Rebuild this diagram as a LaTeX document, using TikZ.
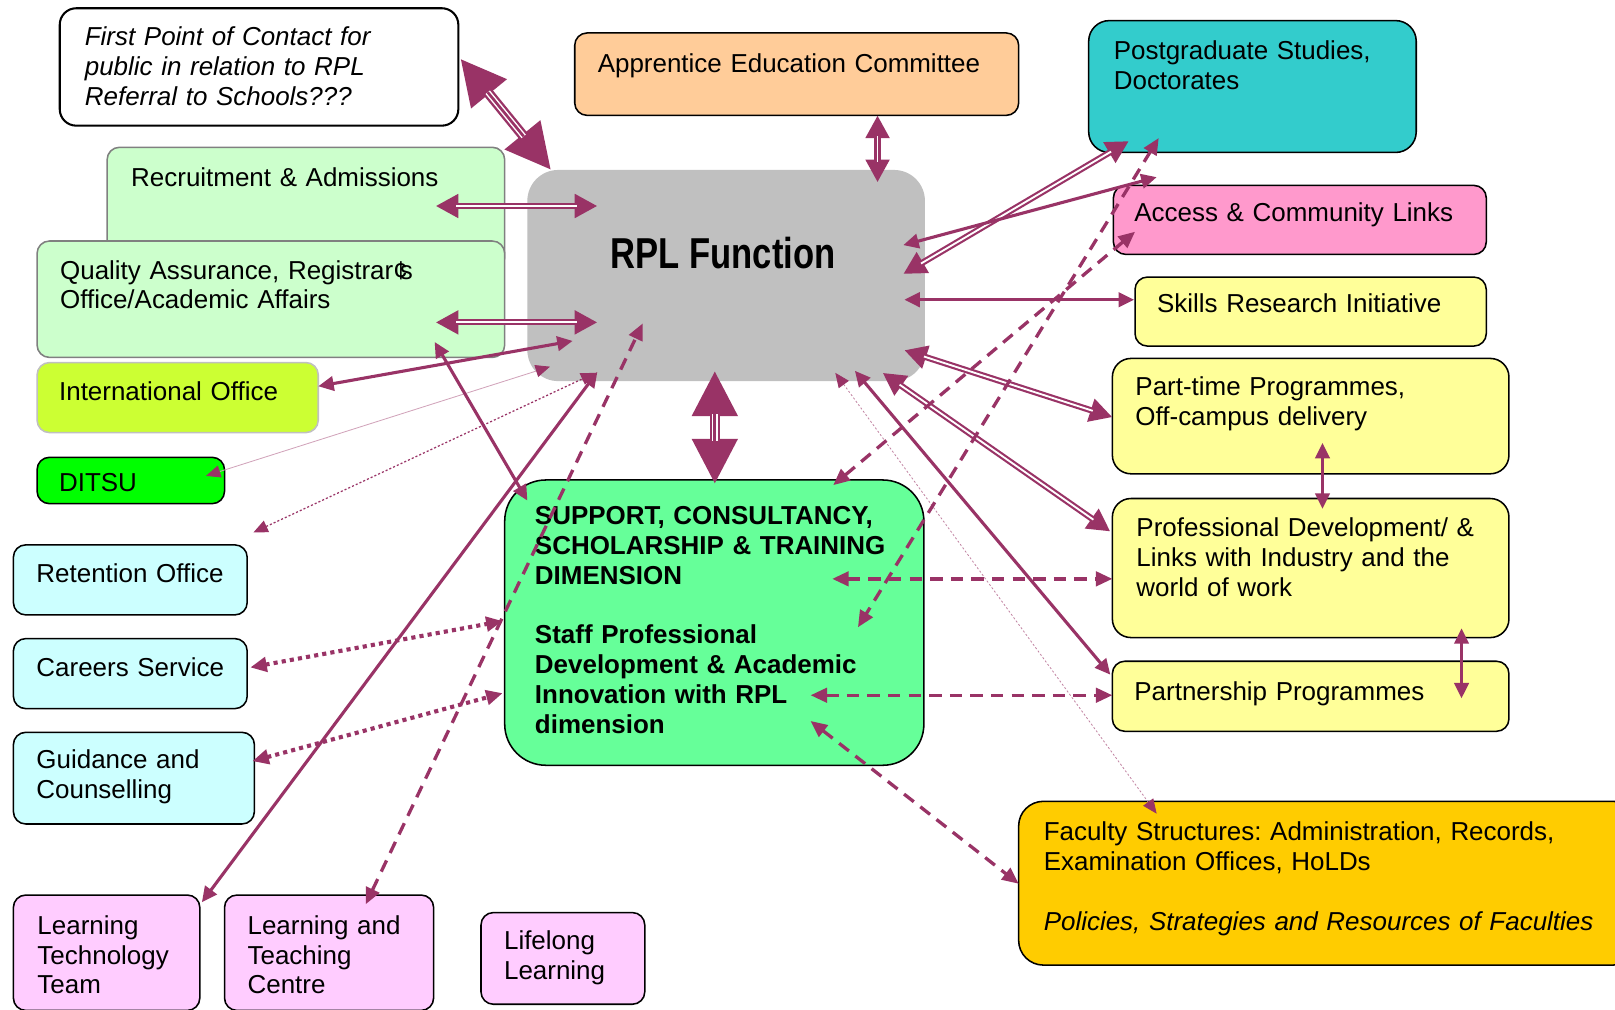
\documentclass[tikz,border=0pt]{standalone}
\usepackage{fontspec}
\setmainfont{Liberation Sans}
\usetikzlibrary{arrows.meta,fit}
\definecolor{plum}{HTML}{993366}
\definecolor{peach}{HTML}{FFCC99}
\definecolor{tealc}{HTML}{33CCCC}
\definecolor{mint}{HTML}{CCFFCC}
\definecolor{limec}{HTML}{CCFF33}
\definecolor{greenc}{HTML}{00FF00}
\definecolor{cyanc}{HTML}{CCFFFF}
\definecolor{pinkc}{HTML}{FFCCFF}
\definecolor{greyc}{HTML}{C0C0C0}
\definecolor{sgreen}{HTML}{66FF99}
\definecolor{rose}{HTML}{FF99CC}
\definecolor{yel}{HTML}{FFFF99}
\definecolor{goldc}{HTML}{FFCC00}
\frenchspacing
\newcommand\tf{\fontsize{12.6}{14.5}\selectfont\frenchspacing}
\newcommand\mkbox[6]{\path (#2,#3) coordinate (#1-a) (#4,#5) coordinate (#1-b);
  \node[fit=(#1-a)(#1-b), inner sep=0pt, #6] (#1) {};}
\newcommand\dblarrow[2]{%
  \draw[plum, line width=3pt, {Triangle[length=11pt,width=11pt]}-{Triangle[length=11pt,width=11pt]}] (#1) -- (#2);
  \draw[white, line width=0.9pt, shorten <=10pt, shorten >=10pt] (#1) -- (#2);}
\newcommand\bigarrow[2]{%
  \draw[plum, line width=5pt, {Triangle[length=22pt,width=21pt]}-{Triangle[length=22pt,width=21pt]}] (#1) -- (#2);
  \draw[white, line width=0.7pt, double=plum, double distance=1.3pt, shorten <=21pt, shorten >=21pt] (#1) -- (#2);}
\begin{document}
\begin{tikzpicture}[x=0.5pt,y=-0.5pt,
  box/.style={draw=black, line width=0.75pt, rounded corners=6pt},
  txt/.style={inner sep=0pt, anchor=base west, text width=330pt, align=left, font=\tf},
  sol/.style={plum, line width=1.5pt, {Triangle[length=7.5pt,width=7pt]}-{Triangle[length=7.5pt,width=7pt]}},
  dsh/.style={plum, line width=1.6pt, dash pattern=on 6pt off 4pt, {Triangle[length=8pt,width=7pt]}-{Triangle[length=8pt,width=7pt]}},
  dots/.style={plum, line width=2pt, dash pattern=on 2pt off 2pt, {Triangle[length=8pt,width=7pt]}-{Triangle[length=8pt,width=7pt]}},
  faint/.style={plum!45, line width=0.4pt, {Triangle[length=7pt,width=6pt,color=plum]}-{Triangle[length=7pt,width=6pt,color=plum]}},
  fdot/.style={plum, line width=0.6pt, dash pattern=on 1pt off 1pt, {Triangle[length=7pt,width=6pt]}-{Triangle[length=7pt,width=6pt]}},
  fdot2/.style={plum!60, line width=0.4pt, dash pattern=on 1pt off 1pt, {Triangle[length=7pt,width=6pt,color=plum]}-{Triangle[length=7pt,width=6pt,color=plum]}}
]
\fill[white] (0,0) rectangle (1568,980);
\useasboundingbox (0,0) rectangle (1568,980);

% boxes
\mkbox{first}{58}{8}{445}{122}{box, fill=white, rounded corners=8pt, line width=1pt}
\mkbox{aec}{558}{32}{989}{112}{box, fill=peach}
\mkbox{pg}{1057}{20}{1375}{148}{box, fill=tealc, rounded corners=10pt}
\mkbox{ra}{104}{143}{490}{262}{box, fill=mint, draw=gray}
\mkbox{qa}{36}{234}{490}{347}{box, fill=mint, draw=gray}
\mkbox{io}{36}{352}{309}{420}{box, fill=limec, draw=greyc}
\mkbox{ditsu}{36}{444}{218}{489}{box, fill=greenc}
\mkbox{ret}{13}{529}{240}{597}{box, fill=cyanc}
\mkbox{car}{13}{620}{240}{688}{box, fill=cyanc}
\mkbox{gc}{13}{711}{247}{800}{box, fill=cyanc}
\mkbox{ltt}{13}{869}{194}{981}{box, fill=pinkc}
\mkbox{ltc}{218}{869}{421}{981}{box, fill=pinkc}
\mkbox{ll}{467}{886}{626}{975}{box, fill=pinkc}
\mkbox{rpl}{512}{165}{898}{370}{fill=greyc, rounded corners=15pt}
\mkbox{sup}{490}{466}{897}{743}{box, fill=sgreen, rounded corners=20pt}
\mkbox{acc}{1081}{180}{1443}{247}{box, fill=rose}
\mkbox{sk}{1102}{269}{1443}{336}{box, fill=yel}
\mkbox{pt}{1080}{348}{1465}{460}{box, fill=yel, rounded corners=9pt}
\mkbox{pd}{1080}{484}{1465}{619}{box, fill=yel, rounded corners=9pt}
\mkbox{pp}{1080}{642}{1465}{710}{box, fill=yel}
\mkbox{fac}{989}{778}{1590}{937}{box, fill=goldc, rounded corners=12pt}

% texts
\node[txt, font=\tf\itshape] (first-t) at (82,44) {First Point of Contact for\\public in relation to RPL\\Referral to Schools???};
\node[txt] (aec-t) at (580,70) {Apprentice Education Committee};
\node[txt] (pg-t) at (1081,58) {Postgraduate Studies,\\Doctorates};
\node[txt] (ra-t) at (127,181) {Recruitment \& Admissions};
\node[txt] (qa-t) at (58,271) {Quality Assurance, Registrar¢\kern-.3em s\\Office/Academic Affairs};
\node[txt] (io-t) at (57,389) {International Office};
\node[txt] (ditsu-t) at (57,477) {DITSU};
\node[txt] (ret-t) at (35,566) {Retention Office};
\node[txt] (car-t) at (35,657) {Careers Service};
\node[txt] (gc-t) at (35,746) {Guidance and\\Counselling};
\node[txt] (ltt-t) at (36,907) {Learning\\Technology\\Team};
\node[txt] (ltc-t) at (240,907) {Learning and\\Teaching\\Centre};
\node[txt] (ll-t) at (489,922) {Lifelong\\Learning};
\node[inner sep=0pt, font=\fontsize{21}{24}\selectfont\bfseries] (rpl-t) at (702,246) {\scalebox{0.8}[1]{RPL Function}};
\node[txt, font=\tf\bfseries] (sup-t) at (519,509) {SUPPORT, CONSULTANCY,\\SCHOLARSHIP \& TRAINING\\DIMENSION\\[14.5pt]Staff Professional\\Development \& Academic\\Innovation with RPL\\dimension};
\node[txt] (acc-t) at (1101,215) {Access \& Community Links};
\node[txt] (sk-t) at (1123,303) {Skills Research Initiative};
\node[txt] (pt-t) at (1102,384) {Part-time Programmes,\\Off-campus delivery};
\node[txt] (pd-t) at (1103,521) {Professional Development/ \&\\Links with Industry and the\\world of work};
\node[txt] (pp-t) at (1101,680) {Partnership Programmes};
\node[txt] (fac-t) at (1013,816) {Faculty Structures: Administration, Records,\\Examination Offices, HoLDs\\[14.5pt]\textit{Policies, Strategies and Resources of Faculties}};

% connector end points
\coordinate (A1) at (447,57);   \coordinate (A2) at (535,165);
\coordinate (B1) at (423,200);  \coordinate (B2) at (580,200);
\coordinate (C1) at (423,313);  \coordinate (C2) at (580,313);
\coordinate (D1) at (309,375);  \coordinate (D2) at (556,331);
\coordinate (E1) at (200,462);  \coordinate (E2) at (534,356);
\coordinate (F1) at (246,517);  \coordinate (F2) at (578,362);
\coordinate (G1) at (196,876);  \coordinate (G2) at (580,361);
\coordinate (H1) at (355,878);  \coordinate (H2) at (624,314);
\coordinate (I1) at (422,332);  \coordinate (I2) at (512,486);
\coordinate (J1) at (243,648);  \coordinate (J2) at (488,603);
\coordinate (K1) at (245,739);  \coordinate (K2) at (488,673);
\coordinate (L1) at (694,360);  \coordinate (L2) at (694,470);
\coordinate (M1) at (852,112);  \coordinate (M2) at (852,177);
\coordinate (N1) at (877,266);  \coordinate (N2) at (1096,137);
\coordinate (O1) at (877,238);  \coordinate (O2) at (1123,172);
\coordinate (P1) at (1102,225); \coordinate (P2) at (809,471);
\coordinate (Q1) at (1125,134); \coordinate (Q2) at (833,609);
\coordinate (R1) at (878,291);  \coordinate (R2) at (1101,291);
\coordinate (S1) at (878,340);  \coordinate (S2) at (1080,405);
\coordinate (T1) at (857,362);  \coordinate (T2) at (1078,516);
\coordinate (U1) at (830,360);  \coordinate (U2) at (1078,655);
\coordinate (V1) at (811,362);  \coordinate (V2) at (1123,790);
\coordinate (W1) at (808,562);  \coordinate (W2) at (1080,562);
\coordinate (X1) at (787,675);  \coordinate (X2) at (1080,675);
\coordinate (Y1) at (787,700);  \coordinate (Y2) at (989,858);
\coordinate (Z1) at (1284,430); \coordinate (Z2) at (1284,494);
\coordinate (AA1) at (1419,610); \coordinate (AA2) at (1419,678);

% connectors
\draw[faint] (E1) -- (E2);
\draw[fdot] (F1) -- (F2);
\draw[fdot2] (V1) -- (V2);
\bigarrow{A1}{A2}
\bigarrow{L1}{L2}
\dblarrow{B1}{B2}
\dblarrow{C1}{C2}
\dblarrow{M1}{M2}
\dblarrow{N1}{N2}
\dblarrow{S1}{S2}
\dblarrow{T1}{T2}
\draw[sol] (D1) -- (D2);
\draw[sol] (G1) -- (G2);
\draw[sol] (I1) -- (I2);
\draw[sol] (O1) -- (O2);
\draw[sol] (R1) -- (R2);
\draw[sol] (U1) -- (U2);
\draw[sol] (Z1) -- (Z2);
\draw[sol] (AA1) -- (AA2);
\draw[dsh] (H1) -- (H2);
\draw[dsh] (P1) -- (P2);
\draw[dsh] (Q1) -- (Q2);
\draw[dsh] (W1) -- (W2);
\draw[dsh] (X1) -- (X2);
\draw[dsh] (Y1) -- (Y2);
\draw[dots] (J1) -- (J2);
\draw[dots] (K1) -- (K2);
\end{tikzpicture}
\end{document}
